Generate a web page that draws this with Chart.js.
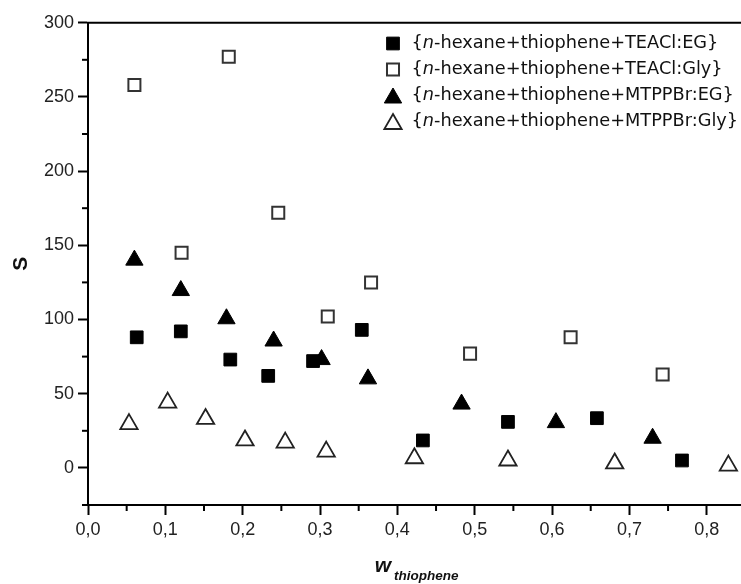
<!DOCTYPE html>
<html><head><meta charset="utf-8">
<script src="https://cdn.jsdelivr.net/npm/chart.js@4.4.1/dist/chart.umd.min.js"></script>
<style>
html,body{margin:0;padding:0;background:#fff;overflow:hidden;width:741px;height:584px}
#wrap{position:relative;width:760px;height:584px}
canvas{display:block}
</style></head>
<body><div id="wrap"><canvas id="c" width="760" height="584"></canvas></div>
<script>
// ---- data ----
const seriesLabels = [
  "n-hexane+thiophene+TEACl:EG",
  "n-hexane+thiophene+TEACl:Gly",
  "n-hexane+thiophene+MTPPBr:EG",
  "n-hexane+thiophene+MTPPBr:Gly"
];
const xTeaclEg   = [0.063,0.120,0.184,0.233,0.291,0.354,0.433,0.543,0.658,0.768];
const sTeaclEg   = [88,92,73,62,72,93,18.5,31,33.5,5];
const xTeaclGly  = [0.060,0.121,0.182,0.246,0.310,0.366,0.494,0.624,0.743];
const sTeaclGly  = [258,145,277,172,102,125,77,88,63];
const xMtppbrEg  = [0.060,0.120,0.179,0.240,0.302,0.362,0.483,0.605,0.730];
const sMtppbrEg  = [140,119.5,100.5,85.5,73,60,43,30.5,20];
const xMtppbrGly = [0.053,0.103,0.152,0.203,0.255,0.308,0.422,0.543,0.681,0.828];
const sMtppbrGly = [29.5,44,33,18.5,17,11,6.5,5,3,1.5];

const yTicks = [0,50,100,150,200,250,300];
const yMinorTicks = [-25,25,75,125,175,225,275];
const xTicks = [0,0.1,0.2,0.3,0.4,0.5,0.6,0.7,0.8];
const xMinorTicks = [0.05,0.15,0.25,0.35,0.45,0.55,0.65,0.75,0.85];
const yTitle = "S";
const xTitleMain = "w";
const xTitleSub = "thiophene";

// ---- styles ----
const pts = (xs, ys) => xs.map((x, i) => ({x, y: ys[i]}));
const markerStyles = [
  {pointStyle:'rect', radius:9, fill:'#000', stroke:'#000', bw:1},
  {pointStyle:'rect', radius:8.5, fill:'#fff', stroke:'#333', bw:2},
  {pointStyle:'triangle', radius:10, fill:'#000', stroke:'#000', bw:1},
  {pointStyle:'triangle', radius:10, fill:'#fff', stroke:'#222', bw:1.8}
];
const seriesData = [pts(xTeaclEg,sTeaclEg), pts(xTeaclGly,sTeaclGly), pts(xMtppbrEg,sMtppbrEg), pts(xMtppbrGly,sMtppbrGly)];

const datasets = seriesData.map((d, i) => ({
  label: seriesLabels[i],
  data: d,
  showLine: false,
  pointStyle: markerStyles[i].pointStyle,
  pointRadius: markerStyles[i].radius,
  pointBackgroundColor: markerStyles[i].fill,
  pointBorderColor: markerStyles[i].stroke,
  pointBorderWidth: markerStyles[i].bw,
  pointHoverRadius: markerStyles[i].radius
}));

const tickFont = {family:'"Liberation Sans", Arial, sans-serif', size:18};

function drawMarker(ctx, st, x, y){
  ctx.save();
  ctx.fillStyle = st.fill; ctx.strokeStyle = st.stroke; ctx.lineWidth = st.bw;
  ctx.beginPath();
  const r = st.radius;
  if (st.pointStyle === 'rect'){
    const s = Math.SQRT1_2 * r;
    ctx.rect(x - s, y - s, 2*s, 2*s);
  } else {
    const yy = y + r/4;
    let a = 0;
    ctx.moveTo(x + Math.sin(a)*r, yy - Math.cos(a)*r);
    a += 2*Math.PI/3; ctx.lineTo(x + Math.sin(a)*r, yy - Math.cos(a)*r);
    a += 2*Math.PI/3; ctx.lineTo(x + Math.sin(a)*r, yy - Math.cos(a)*r);
    ctx.closePath();
  }
  ctx.fill(); ctx.stroke();
  ctx.restore();
}

const decorPlugin = {
  id: 'decor',
  afterDraw(chart){
    const ctx = chart.ctx, ca = chart.chartArea;
    const xs = chart.scales.x, ys = chart.scales.y;
    ctx.save();
    // top frame line
    ctx.strokeStyle = '#000'; ctx.lineWidth = 2;
    ctx.beginPath(); ctx.moveTo(ca.left - 1, ca.top); ctx.lineTo(chart.width, ca.top); ctx.stroke();
    // minor ticks
    ctx.lineWidth = 2;
    yMinorTicks.forEach(v => {
      const p = ys.getPixelForValue(v);
      ctx.beginPath(); ctx.moveTo(ca.left - 6, p); ctx.lineTo(ca.left, p); ctx.stroke();
    });
    xMinorTicks.forEach(v => {
      const p = xs.getPixelForValue(v);
      ctx.beginPath(); ctx.moveTo(p, ca.bottom); ctx.lineTo(p, ca.bottom + 6); ctx.stroke();
    });
    // y title
    ctx.fillStyle = '#111';
    ctx.font = 'bold 21px "Liberation Sans", Arial, sans-serif';
    ctx.textAlign = 'center'; ctx.textBaseline = 'middle';
    ctx.save();
    ctx.translate(21, (ca.top + ca.bottom)/2);
    ctx.rotate(-Math.PI/2);
    ctx.fillText(yTitle, 0, 0);
    ctx.restore();
    // x title with subscript
    ctx.textAlign = 'left'; ctx.textBaseline = 'alphabetic';
    const fMain = 'italic bold 21px "Liberation Sans", Arial, sans-serif';
    const fSub = 'italic bold 13.5px "Liberation Sans", Arial, sans-serif';
    ctx.font = fMain; const wMain = ctx.measureText(xTitleMain).width;
    ctx.font = fSub; const wSub = ctx.measureText(xTitleSub).width;
    const gap = 3;
    const cx = (ca.left + xs.getPixelForValue(0.85)) / 2;
    const startX = cx - (wMain + gap + wSub)/2;
    ctx.font = fMain; ctx.fillText(xTitleMain, startX, 572);
    ctx.font = fSub; ctx.fillText(xTitleSub, startX + wMain + gap, 580);
    // legend
    const legFamily = '"DejaVu Sans", Verdana, sans-serif';
    const targetW = 307;
    const measureLabel = (lab, size) => {
      ctx.font = size + 'px ' + legFamily;
      let w = ctx.measureText('{').width + ctx.measureText(lab.slice(1) + '}').width;
      ctx.font = 'italic ' + size + 'px ' + legFamily;
      w += ctx.measureText('n').width;
      return w;
    };
    const size = 16 * targetW / measureLabel(seriesLabels[0], 16);
    const symX = 393, textX = 411.5, row0 = 43.5, rowH = 26;
    seriesLabels.forEach((lab, i) => {
      const y = row0 + i*rowH;
      drawMarker(ctx, markerStyles[i], symX, y);
      ctx.fillStyle = '#111'; ctx.textBaseline = 'middle'; ctx.textAlign = 'left';
      let x = textX;
      ctx.font = size + 'px ' + legFamily;
      ctx.fillText('{', x, y); x += ctx.measureText('{').width;
      ctx.font = 'italic ' + size + 'px ' + legFamily;
      ctx.fillText('n', x, y); x += ctx.measureText('n').width;
      ctx.font = size + 'px ' + legFamily;
      ctx.fillText(lab.slice(1) + '}', x, y);
    });
    ctx.restore();
  }
};

new Chart(document.getElementById('c'), {
  type: 'scatter',
  data: {datasets},
  options: {
    responsive: false,
    animation: false,
    events: [],
    layout: {padding: {top: 22.7, right: 14.6, left: 0, bottom: 0}},
    plugins: {legend: {display: false}, tooltip: {enabled: false}},
    scales: {
      x: {
        type: 'linear', min: 0, max: 0.85,
        afterBuildTicks: s => { s.ticks = xTicks.map(v => ({value: v})); },
        afterFit: s => { s.height = 79; },
        grid: {drawOnChartArea: false, drawTicks: true, tickLength: 10, tickWidth: 2, tickColor: '#000'},
        border: {display: true, color: '#000', width: 2},
        ticks: {font: tickFont, color: '#222', padding: 4, maxRotation: 0, autoSkip: false,
                callback: v => Number(v).toFixed(1).replace('.', ',')}
      },
      y: {
        type: 'linear', min: -25, max: 300,
        afterBuildTicks: s => { s.ticks = yTicks.map(v => ({value: v})); },
        afterFit: s => { s.width = 88; },
        grid: {drawOnChartArea: false, drawTicks: true, tickLength: 10, tickWidth: 2, tickColor: '#000'},
        border: {display: true, color: '#000', width: 2},
        ticks: {font: tickFont, color: '#222', padding: 4, autoSkip: false,
                callback: v => String(v)}
      }
    }
  },
  plugins: [decorPlugin]
});
</script>
</body></html>
